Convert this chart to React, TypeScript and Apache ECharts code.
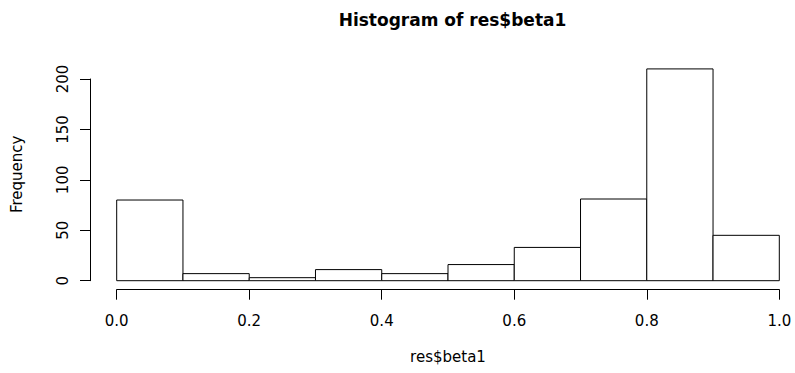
import React, { useEffect, useRef } from "react";
import * as echarts from "echarts";

const titleText = "Histogram of res$beta1";
const xLabel = "res$beta1";
const yLabel = "Frequency";
const binStarts = [0.0, 0.1, 0.2, 0.3, 0.4, 0.5, 0.6, 0.7, 0.8, 0.9];
const binEnds = [0.1, 0.2, 0.3, 0.4, 0.5, 0.6, 0.7, 0.8, 0.9, 1.0];
const counts = [80, 7, 3, 11, 7, 16, 33, 81, 210, 45];
const yTicks = [0, 50, 100, 150, 200];

const FONT = "DejaVu Sans";

export default function App() {
  const ref = useRef<HTMLDivElement>(null);
  useEffect(() => {
    if (!ref.current) return;
    const chart = echarts.init(ref.current, null, { renderer: "svg" });
    const data = binStarts.map((s, i) => [s, binEnds[i], counts[i]]);
    chart.setOption({
      animation: false,
      backgroundColor: "#ffffff",
      title: {
        text: titleText,
        left: 447.5,
        textAlign: "center",
        top: 6,
        textStyle: { fontFamily: FONT, fontWeight: "bold", fontSize: 17, color: "#000" },
      },
      grid: { left: 116.7, right: 15.7, top: 79, bottom: 92.3 },
      xAxis: {
        type: "value",
        min: 0,
        max: 1,
        interval: 0.2,
        offset: 9,
        name: xLabel,
        nameLocation: "middle",
        nameGap: 60,
        nameTextStyle: { fontFamily: FONT, fontSize: 15, color: "#000" },
        axisLine: { show: true, onZero: false, lineStyle: { color: "#000", width: 1 } },
        axisTick: { show: true, length: 10, lineStyle: { color: "#000" } },
        axisLabel: {
          margin: 24,
          fontFamily: FONT,
          fontSize: 15,
          color: "#000",
          formatter: (v: number) => v.toFixed(1),
        },
        splitLine: { show: false },
      },
      yAxis: {
        type: "value",
        min: 0,
        max: 200,
        interval: 50,
        offset: 26.7,
        name: yLabel,
        nameLocation: "middle",
        nameGap: 66,
        nameRotate: 90,
        nameTextStyle: { fontFamily: FONT, fontSize: 15, color: "#000", padding: [0, 0, 0, 11] },
        axisLine: { show: true, onZero: false, lineStyle: { color: "#000", width: 1 } },
        axisTick: { show: true, length: 10, lineStyle: { color: "#000" }, customValues: yTicks },
        axisLabel: {
          customValues: yTicks,
          rotate: 90,
          align: "center",
          verticalAlign: "bottom",
          margin: 20,
          fontFamily: FONT,
          fontSize: 15,
          color: "#000",
        },
        splitLine: { show: false },
      },
      series: [
        {
          type: "custom",
          clip: false,
          data,
          encode: { x: [0, 1], y: 2 },
          renderItem: (params: any, api: any) => {
            const x0 = api.value(0);
            const x1 = api.value(1);
            const c = api.value(2);
            const p0 = api.coord([x0, 0]);
            const p1 = api.coord([x1, c]);
            return {
              type: "rect",
              shape: { x: p0[0], y: p1[1], width: p1[0] - p0[0], height: p0[1] - p1[1] },
              style: { fill: "#ffffff", stroke: "#000000", lineWidth: 1 },
            };
          },
        },
      ],
    });
    return () => chart.dispose();
  }, []);
  return (
    <div
      ref={ref}
      style={{ position: "absolute", left: 0, top: 0, width: 795, height: 373, background: "#fff" }}
    />
  );
}
